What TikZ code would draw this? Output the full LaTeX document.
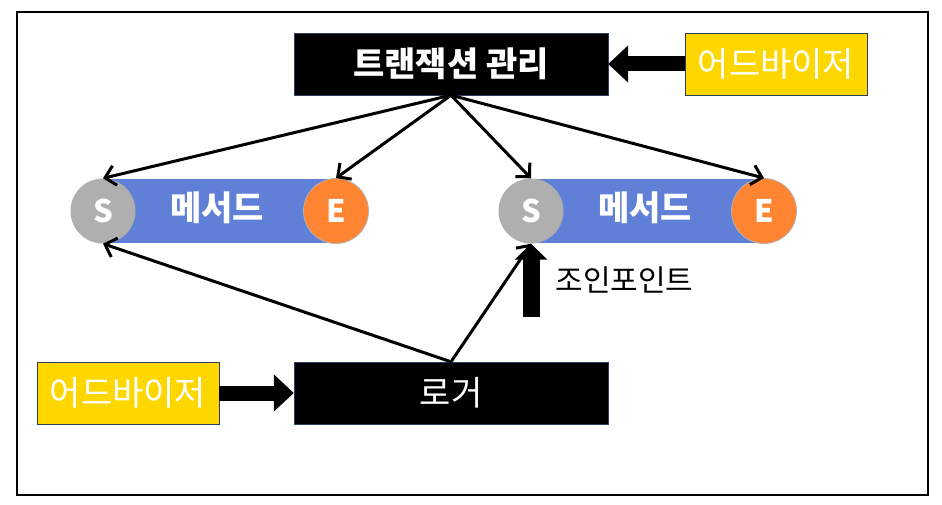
\documentclass[tikz,border=0pt]{standalone}
\usepackage{fontspec}
\setmainfont{Noto Sans CJK KR}
\usetikzlibrary{arrows.meta}

\definecolor{advyellow}{HTML}{FFD700}
\definecolor{methodblue}{HTML}{5F80D6}
\definecolor{startgray}{HTML}{AFAFAF}
\definecolor{endorange}{HTML}{FF8533}
\definecolor{boxedge}{HTML}{2F3D5F}

\begin{document}
\begin{tikzpicture}[
		x=1pt, y=-1pt,
		blackbox/.style={rectangle, draw=boxedge, fill=black, text=white,
			minimum width=314pt, minimum height=62pt, inner sep=0pt},
		advbox/.style={rectangle, draw=boxedge, fill=advyellow, text=white,
			minimum width=182pt, minimum height=62pt, inner sep=0pt,
			font=\fontsize{34}{38}\selectfont},
		methodbar/.style={rectangle, fill=methodblue, text=white,
			minimum width=233pt, minimum height=63pt, inner sep=0pt,
			font=\fontsize{34}{38}\selectfont\bfseries},
		startdot/.style={circle, fill=startgray, text=white, minimum size=65pt,
			inner sep=0pt, font=\fontsize{31}{34}\selectfont\bfseries},
		enddot/.style={startdot, fill=endorange, draw=gray!60, line width=0.8pt},
		call/.style={-{Straight Barb[length=10pt, width=20pt]}, line width=3pt},
		bigarrow/.style={-{Triangle[length=20pt, width=36pt]}, line width=15pt}
	]
  \useasboundingbox (0,0) rectangle (942,505);
  \fill[white] (0,0) rectangle (942,505);
  \draw[line width=1.2pt] (17,12) rectangle (928,495);

  % boxes
  \node (tx) [blackbox, font=\fontsize{34}{38}\selectfont\bfseries] at (451,64) {트랜잭션 관리};
  \node (logger) [blackbox, font=\fontsize{34}{38}\selectfont] at (451,393) {로거};
  \node (adv_top) [advbox] at (776,64) {어드바이저};
  \node (adv_bot) [advbox] at (128,393) {어드바이저};

  % methods
  \node (m1) [methodbar] at (219.5,211) {};
  \node (m1_label) [text=white, font=\fontsize{34}{38}\selectfont\bfseries] at (217,208) {메서드};
  \node (s1) [startdot] at (103,211) {S};
  \node (e1) [enddot] at (336,211) {E};
  \node (m2) [methodbar] at (647.5,211) {};
  \node (m2_label) [text=white, font=\fontsize{34}{38}\selectfont\bfseries] at (645,208) {메서드};
  \node (s2) [startdot] at (531,211) {S};
  \node (e2) [enddot] at (764,211) {E};

  % calls
  \draw[call] (tx.south) -- (s1.north);
  \draw[call] (tx.south) -- (e1.north);
  \draw[call] (tx.south) -- (s2.north);
  \draw[call] (tx.south) -- (e2.north);
  \draw[call] (logger.north) -- (s1.south);
  \draw[call] (logger.north) -- (s2.south);

  % advice arrows
  \draw[bigarrow] (adv_top.west) -- (tx.east);
  \draw[bigarrow] (adv_bot.east) -- (logger.west);

  % join point
  \coordinate (jp) at (531,317);
  \draw[-{Triangle[length=16pt, width=32pt]}, line width=17pt] (jp) -- (s2.south);
  \node (jp_label) [anchor=west, font=\fontsize{30}{34}\selectfont] at (552,280) {조인포인트};
\end{tikzpicture}
\end{document}
